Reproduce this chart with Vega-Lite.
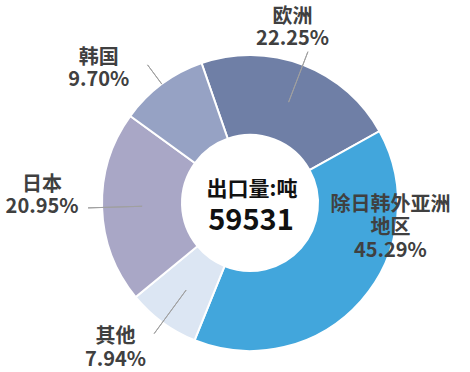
{
  "$schema": "https://vega.github.io/schema/vega-lite/v6.json",
  "width": 440,
  "height": 338,
  "autosize": {"type": "none"},
  "padding": {"left": 30, "top": 34, "right": 0, "bottom": 0},
  "background": "white",
  "config": {"view": {"stroke": null}, "text": {"font": "Noto Sans CJK SC"}},
  "data": {
    "values": [
      {"region": "欧洲", "share": 22.25, "order": 1, "label": "欧洲\n22.25%"},
      {"region": "除日韩外亚洲地区", "share": 39.16, "order": 2, "label": "除日韩外亚洲\n地区\n45.29%"},
      {"region": "其他", "share": 7.94, "order": 3, "label": "其他\n7.94%"},
      {"region": "日本", "share": 20.95, "order": 4, "label": "日本\n20.95%"},
      {"region": "韩国", "share": 9.70, "order": 5, "label": "韩国\n9.70%"}
    ]
  },
  "layer": [
    {
      "encoding": {
        "theta": {"field": "share", "type": "quantitative", "stack": true, "scale": {"domain": [0, 100], "range": [-0.3334, 5.9498]}},
        "order": {"field": "order", "type": "quantitative"}
      },
      "layer": [
        {
          "mark": {"type": "arc", "innerRadius": 68, "outerRadius": 148, "stroke": "white", "strokeWidth": 2},
          "encoding": {
            "color": {
              "field": "region", "type": "nominal", "legend": null,
              "scale": {
                "domain": ["欧洲", "除日韩外亚洲地区", "其他", "日本", "韩国"],
                "range": ["#6F7FA6", "#42A6DC", "#DCE6F3", "#A9A7C6", "#96A2C4"]
              }
            }
          }
        },
        {
          "mark": {"type": "arc", "innerRadius": 108, "outerRadius": 162, "padAngle": 3, "filled": false, "stroke": "#a0a0a0", "strokeWidth": 1},
          "encoding": {
            "strokeOpacity": {"condition": {"test": "indexof(['欧洲','日本','其他'], datum.region) >= 0", "value": 1}, "value": 0}
          }
        },
        {
          "mark": {"type": "arc", "innerRadius": 148, "outerRadius": 172, "padAngle": 3, "filled": false, "stroke": "#a0a0a0", "strokeWidth": 1},
          "encoding": {
            "strokeOpacity": {"condition": {"test": "datum.region === '韩国'", "value": 1}, "value": 0}
          }
        },
        {
          "mark": {"type": "text", "radius": 175, "dx": -20, "dy": -23, "fontSize": 20, "fontWeight": "bold", "fill": "#404040", "lineBreak": "\n", "lineHeight": 22, "align": "center", "baseline": "middle"},
          "encoding": {"text": {"condition": {"test": "datum.region === '欧洲'", "field": "label"}, "value": ""}}
        },
        {
          "mark": {"type": "text", "radius": 110, "dx": 58, "dy": -71, "fontSize": 20, "fontWeight": "bold", "fill": "#404040", "lineBreak": "\n", "lineHeight": 23, "align": "center", "baseline": "middle"},
          "encoding": {"text": {"condition": {"test": "datum.region === '除日韩外亚洲地区'", "field": "label"}, "value": ""}}
        },
        {
          "mark": {"type": "text", "radius": 175, "dx": -31, "dy": -7, "fontSize": 20, "fontWeight": "bold", "fill": "#404040", "lineBreak": "\n", "lineHeight": 23, "align": "center", "baseline": "middle"},
          "encoding": {"text": {"condition": {"test": "datum.region === '其他'", "field": "label"}, "value": ""}}
        },
        {
          "mark": {"type": "text", "radius": 200, "dx": -8, "dy": -24, "fontSize": 20, "fontWeight": "bold", "fill": "#404040", "lineBreak": "\n", "lineHeight": 22, "align": "center", "baseline": "middle"},
          "encoding": {"text": {"condition": {"test": "datum.region === '日本'", "field": "label"}, "value": ""}}
        },
        {
          "mark": {"type": "text", "radius": 170, "dx": -50, "dy": -8, "fontSize": 20, "fontWeight": "bold", "fill": "#404040", "lineBreak": "\n", "lineHeight": 22, "align": "center", "baseline": "middle"},
          "encoding": {"text": {"condition": {"test": "datum.region === '韩国'", "field": "label"}, "value": ""}}
        }
      ]
    },
    {
      "data": {"values": [{"title": "出口量:吨", "total": 59531}]},
      "layer": [
        {
          "mark": {"type": "text", "dx": 2, "dy": -13, "fontSize": 21, "fontWeight": "bold", "fill": "#111111", "align": "center", "baseline": "middle"},
          "encoding": {"text": {"field": "title", "type": "nominal"}}
        },
        {
          "mark": {"type": "text", "dx": 1, "dy": 18, "fontSize": 29, "fontWeight": "bold", "fill": "#111111", "align": "center", "baseline": "middle"},
          "encoding": {"text": {"field": "total", "type": "quantitative", "format": "d"}}
        }
      ]
    }
  ]
}
